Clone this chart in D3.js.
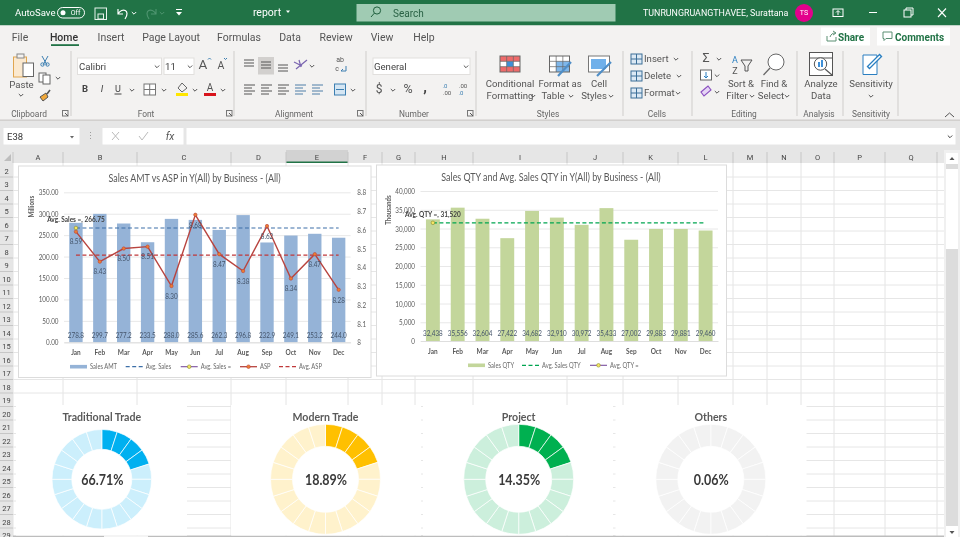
<!DOCTYPE html>
<html>
<head>
<meta charset="utf-8">
<script src="https://cdn.jsdelivr.net/npm/d3@7"></script>
<style>
  html, body { margin: 0; padding: 0; background: #fff; overflow: hidden; }
  svg { display: block; filter: blur(0.35px); }
  text { font-family: Roboto, "Open Sans", sans-serif; }
  .chart text { font-family: Lato, "Open Sans", sans-serif; }
</style>
</head>
<body>
<svg id="sheet" width="960" height="537"></svg>
<script>
// Chart data
var months = ["Jan", "Feb", "Mar", "Apr", "May", "Jun", "Jul", "Aug", "Sep", "Oct", "Nov", "Dec"];
var salesAmt = [278.8, 299.7, 277.2, 233.5, 288.0, 285.6, 262.3, 296.8, 232.9, 249.1, 253.2, 244.0];
var asp = [8.59, 8.43, 8.50, 8.51, 8.30, 8.68, 8.47, 8.38, 8.62, 8.34, 8.47, 8.28];
var avgSales = 266.75;
var avgAsp = 8.465;
var amtTicks = [0, 50, 100, 150, 200, 250, 300, 350];
var aspTicks = [8, 8.1, 8.2, 8.3, 8.4, 8.5, 8.6, 8.7, 8.8];

var salesQty = [32438, 35556, 32604, 27422, 34682, 32910, 30972, 35433, 27002, 29883, 29881, 29460];
var avgQty = 31520;
var qtyTicks = [0, 5000, 10000, 15000, 20000, 25000, 30000, 35000, 40000];

var businessNames = ["Traditional Trade", "Modern Trade", "Project", "Others"];
var businessShare = ["66.71%", "18.89%", "14.35%", "0.06%"];
var businessLit = [4, 4, 4, 0];
var ringSegments = [1, 1, 1, 1, 1, 1, 1, 1, 1, 1, 1, 1, 1, 1, 1, 1, 1, 1, 1, 1];

// Sheet grid labels
var columnNames = ["A", "B", "C", "D", "E", "F", "G", "H", "I", "J", "K", "L", "M", "N", "O", "P", "Q"];
var columnEdges = [13, 63, 137, 231, 286, 348, 382, 415, 473, 567, 623, 678, 733, 767, 801, 834, 885, 937];
var rowNumbers = [2, 3, 4, 5, 6, 7, 8, 9, 10, 11, 12, 13, 14, 15, 16, 17, 18, 19, 20, 21, 22, 23, 24, 25, 26, 27, 28, 29];

var svg = d3.select("#sheet");
var GREEN = "#217346";

function rect(g, x, y, w, h, fill, stroke) {
  return g.append("rect").attr("x", x).attr("y", y).attr("width", w).attr("height", h)
    .attr("fill", fill || "none").attr("stroke", stroke || "none");
}
function label(g, x, y, str, size, fill, anchor, weight) {
  return g.append("text").attr("x", x).attr("y", y).attr("dy", "0.35em")
    .attr("font-size", size).attr("fill", fill || "#444")
    .attr("text-anchor", anchor || "middle").attr("font-weight", weight || 400).text(str);
}
function line(g, x1, y1, x2, y2, stroke, width) {
  return g.append("line").attr("x1", x1).attr("y1", y1).attr("x2", x2).attr("y2", y2)
    .attr("stroke", stroke).attr("stroke-width", width || 1);
}
function path(g, d, stroke, width, fill) {
  return g.append("path").attr("d", d).attr("stroke", stroke || "none")
    .attr("stroke-width", width || 1).attr("fill", fill || "none");
}
function chevron(g, x, y, stroke) {
  path(g, `M${x - 2.2},${y - 1} L${x},${y + 1.2} L${x + 2.2},${y - 1}`, stroke || "#555", 1);
}
// stack of short horizontal bars for the alignment buttons
function bars(g, x, y, widths, stroke) {
  widths.forEach((w, i) => line(g, x, y + i * 3, x + w, y + i * 3, stroke || "#555", 1));
}
// Lato runs wider than Calibri, so squeeze the text to the width Calibri would take
function condense(sel, k) {
  sel.each(function () {
    d3.select(this).attr("textLength", this.getComputedTextLength() * k).attr("lengthAdjust", "spacingAndGlyphs");
  });
}
// small cell grid used by the Styles icons
function cellGrid(g, x, y, w, h, cols, rows) {
  rect(g, x, y, w, h, "none", "#666");
  for (var c = 1; c < cols; c++) line(g, x + c * w / cols, y, x + c * w / cols, y + h, "#666", 0.7);
  for (var r = 1; r < rows; r++) line(g, x, y + r * h / rows, x + w, y + r * h / rows, "#666", 0.7);
}

// ---- title bar ----
function drawTitleBar() {
  var g = svg.append("g");
  rect(g, 0, 0, 960, 25.5, GREEN);
  label(g, 15, 12.5, "AutoSave", 9.6, "#fff", "start");
  g.append("rect").attr("x", 57.5).attr("y", 7.5).attr("width", 27).attr("height", 10.5)
    .attr("rx", 5.2).attr("fill", "none").attr("stroke", "#fff");
  g.append("circle").attr("cx", 63).attr("cy", 12.7).attr("r", 2.5).attr("fill", "#fff");
  label(g, 75.5, 12.5, "Off", 7, "#fff");
  rect(g, 95, 8, 11.5, 11.5, "none", "#e8f3ec");
  rect(g, 98, 14, 5.5, 5, "none", "#e8f3ec");
  path(g, "M118,9 L118,14 L123,14 M118,14 C122,7 131,10 125,19", "#fff", 1.2);
  chevron(g, 134, 13, "#fff");
  path(g, "M156,9 L156,14 L151,14 M156,14 C152,7 143,10 149,19", "#4f9570", 1.1);
  chevron(g, 162, 13, "#4f9570");
  line(g, 176, 9.5, 182, 9.5, "#fff");
  path(g, "M176,12 L182,12 L179,15.5 Z", "none", 1, "#fff");
  label(g, 267, 12.5, "report", 10.5, "#fff");
  path(g, "M286,10.5 L290,10.5 L288,13 Z", "none", 1, "#fff");
  rect(g, 356.5, 4, 259, 17.5, "#a0cbb3");
  g.append("circle").attr("cx", 377).attr("cy", 10.5).attr("r", 3.6).attr("fill", "none").attr("stroke", "#1f5f3d");
  line(g, 374.3, 13.2, 371, 17, "#1f5f3d");
  label(g, 393, 13, "Search", 10, "#2a6245", "start");
  label(g, 643, 12.8, "TUNRUNGRUANGTHAVEE, Surattana", 8.9, "#fff", "start");
  g.append("circle").attr("cx", 804).attr("cy", 13).attr("r", 9).attr("fill", "#e3008c");
  label(g, 804, 13, "TS", 7, "#fff");
  rect(g, 833, 9, 10, 7.5, "none", "#fff");
  path(g, "M838,15 L838,11 M836,12.5 L838,10.5 L840,12.5", "#fff");
  line(g, 869, 12.5, 877, 12.5, "#fff");
  rect(g, 904, 10, 7, 7, "none", "#fff");
  path(g, "M906,10 L906,8 L913,8 L913,15 L911,15", "#fff");
  path(g, "M938,8.5 L946,17 M946,8.5 L938,17", "#fff", 1.1);
}

// ---- ribbon ----
function drawRibbon() {
  var g = svg.append("g");
  rect(g, 0, 25.5, 960, 94, "#f3f2f1");
  rect(g, 0, 119.5, 960, 31, "#e6e6e6");
  rect(g, 0, 119.5, 960, 1.5, "#d2d0ce");

  var tabs = [["File", 20], ["Home", 64], ["Insert", 111], ["Page Layout", 171], ["Formulas", 239],
    ["Data", 290], ["Review", 336], ["View", 382], ["Help", 424]];
  tabs.forEach(t => label(g, t[1], 37, t[0], 10.5, t[0] == "Home" ? "#333" : "#555", "middle", t[0] == "Home" ? 500 : 400));
  rect(g, 51, 44.2, 28, 1.8, GREEN);

  rect(g, 821, 27.5, 49, 18, "#fff");
  path(g, "M827,36 L827,41 L836,41 L836,37 M830,37 C831,34 833,33 835,33 M833,31 L836,33 L833,35", "#5a8f73");
  label(g, 838, 37, "Share", 10, GREEN, "start", 700);
  rect(g, 877, 27.5, 73, 18, "#fff");
  path(g, "M883,32 L892,32 L892,38.5 L886,38.5 L884,40.5 L884,38.5 L883,38.5 Z", "#5a8f73");
  label(g, 895, 37, "Comments", 10, GREEN, "start", 700);

  [71, 234, 366, 476, 623, 692, 797, 843, 898].forEach(x => line(g, x, 51, x, 116, "#cfcdcb"));
  [["Clipboard", 29], ["Font", 146], ["Alignment", 294], ["Number", 414], ["Styles", 548],
    ["Cells", 657], ["Editing", 744], ["Analysis", 819], ["Sensitivity", 871]]
    .forEach(t => label(g, t[1], 114, t[0], 8.4, "#666"));
  [65, 229, 360, 470].forEach(x => {
    rect(g, x - 2.5, 110.5, 5.5, 5.5, "none", "#777");
    path(g, `M${x},${113} L${x + 3},${116}`, "#555");
  });
  path(g, "M945,117 L949.5,113 L954,117", "#555", 1);

  // clipboard
  rect(g, 13.5, 57, 13, 20, "#fbe9cf", "#e0a650");
  rect(g, 17, 54, 7, 4, "#f3f2f1", "#888");
  rect(g, 23, 63, 10.5, 13.5, "#fff", "#666");
  label(g, 21.5, 84.5, "Paste", 9.6, "#555");
  chevron(g, 21, 95);
  path(g, "M42,56 L47,65 M48,56 L43,65", "#3c7fb1", 1);
  g.append("circle").attr("cx", 42.5).attr("cy", 64.5).attr("r", 1.7).attr("fill", "none").attr("stroke", "#3c7fb1");
  g.append("circle").attr("cx", 47.5).attr("cy", 64.5).attr("r", 1.7).attr("fill", "none").attr("stroke", "#3c7fb1");
  rect(g, 39, 73, 7, 9, "#fff", "#666");
  rect(g, 43, 75, 7, 9, "#fff", "#666");
  chevron(g, 58, 78);
  path(g, "M40,97 L46,93 L48,97 L43,101 Z", "#555", 1, "#f0a83a");
  path(g, "M47,94 L50,90", "#555", 1.6);

  // font
  rect(g, 77.5, 58, 84, 16.5, "#fff", "#e1dfdd");
  label(g, 79, 66.5, "Calibri", 9.6, "#444", "start");
  chevron(g, 157, 66.5);
  rect(g, 164, 58, 30, 16.5, "#fff", "#e1dfdd");
  label(g, 165, 66.5, "11", 9.6, "#444", "start");
  chevron(g, 190, 66.5);
  label(g, 203, 64, "A", 13.5, "#555");
  label(g, 221, 65, "A", 10.5, "#555");
  path(g, "M208,59.5 L209.5,58 L211,59.5", "#3c7fb1");
  path(g, "M224,58 L225.5,59.5 L227,58", "#3c7fb1");
  label(g, 85, 89, "B", 9.5, "#444", "middle", 700);
  label(g, 102, 89, "I", 9.5, "#444").attr("font-style", "italic");
  label(g, 118, 88.5, "U", 9, "#444");
  line(g, 114.5, 94, 121.5, 94, "#444");
  chevron(g, 132, 90);
  rect(g, 144, 84, 11.5, 11, "#fff", "#777");
  line(g, 149.7, 84, 149.7, 95, "#777");
  line(g, 144, 89.5, 155.5, 89.5, "#777");
  chevron(g, 164, 90);
  path(g, "M178,88 L182,83 L187,88 L182,92 Z", "#666", 1);
  rect(g, 176, 93, 12, 3, "#ffe600");
  chevron(g, 195, 90);
  label(g, 210, 87, "A", 10, "#555");
  rect(g, 204, 93, 12, 3, "#d8141c");
  chevron(g, 223, 90);

  // alignment
  rect(g, 258, 57, 16, 17.5, "#d2d0ce");
  bars(g, 244, 60, [10, 10, 10]);
  bars(g, 261, 62, [10, 10, 10]);
  bars(g, 278, 65, [10, 10, 10]);
  path(g, "M296,69 L307,60 M299,60 L301,67 M294,62 L302,66", "#7a65b0", 1.2);
  chevron(g, 312, 66);
  label(g, 340, 60, "ab", 7, "#555");
  label(g, 337, 68.5, "c", 7, "#555");
  path(g, "M341,71 L346,71 L346,66 M341,71 L343,69", "#3c7fb1");
  bars(g, 244, 85, [11, 8, 11, 8]);
  bars(g, 261, 85, [11, 8, 11, 8]);
  bars(g, 278, 85, [11, 8, 11, 8]);
  bars(g, 295, 85, [11, 8, 11, 8], "#4f7fa8");
  bars(g, 312, 85, [11, 8, 11, 8], "#4f7fa8");
  rect(g, 334.5, 84, 11, 11, "#d5e6f3", "#3c7fb1");
  line(g, 336, 89.5, 344, 89.5, "#3c7fb1");
  chevron(g, 353, 90);

  // number
  rect(g, 373, 58, 97, 16.5, "#fff", "#e1dfdd");
  label(g, 374, 66.5, "General", 9.6, "#444", "start");
  chevron(g, 466, 66.5);
  label(g, 379, 89, "$", 12, "#555");
  chevron(g, 393, 90);
  label(g, 408, 89, "%", 12.5, "#555");
  label(g, 425, 87, ",", 15, "#444", "middle", 700);
  label(g, 445, 85.5, ".0", 6, "#3c7fb1");
  label(g, 447, 92.5, ".00", 6, "#555");
  label(g, 463, 85.5, ".00", 6, "#555");
  label(g, 461, 92.5, ".0", 6, "#3c7fb1");

  // styles
  rect(g, 500, 56, 20, 16, "#fff");
  rect(g, 500, 56, 20, 5.3, "#ee6a6a");
  rect(g, 500, 66.7, 20, 5.3, "#ee6a6a");
  rect(g, 506.7, 61.3, 6.6, 5.4, "#3f8fd6");
  cellGrid(g, 500, 56, 20, 16, 3, 3);
  rect(g, 549.5, 56, 20, 16, "#fff");
  rect(g, 556, 61.3, 13.5, 10.7, "#7fb7ea");
  cellGrid(g, 549.5, 56, 20, 16, 3, 3);
  path(g, "M558,76 L571,62", "#4f8ec7", 2.2);
  rect(g, 588.5, 56, 21, 16, "#fff", "#777");
  rect(g, 591, 59, 15, 10, "#70b0ea");
  path(g, "M597,76 L611,62", "#4f8ec7", 2.2);
  label(g, 510, 84, "Conditional", 9.6, "#555");
  label(g, 510, 96, "Formatting", 9.6, "#555");
  chevron(g, 533, 96);
  label(g, 560, 84, "Format as", 9.6, "#555");
  label(g, 553, 96, "Table", 9.6, "#555");
  chevron(g, 571, 96);
  label(g, 599, 84, "Cell", 9.6, "#555");
  label(g, 594, 96, "Styles", 9.6, "#555");
  chevron(g, 611, 96);

  // cells
  [["Insert", 59, 676], ["Delete", 76, 679], ["Format", 93, 678]].forEach(t => {
    rect(g, 631, t[1] - 5, 11, 10, "#dce9f4", "#3c6f98");
    line(g, 631, t[1], 642, t[1], "#3c6f98");
    line(g, 636.5, t[1] - 5, 636.5, t[1] + 5, "#3c6f98");
    label(g, 644, t[1], t[0], 9.6, "#555", "start");
    chevron(g, t[2], t[1]);
  });

  // editing
  label(g, 706, 58, "\u03A3", 12.5, "#555");
  chevron(g, 719, 59);
  rect(g, 700.5, 70, 11, 10, "#fff", "#666");
  path(g, "M706,72 L706,78 M704,76 L706,78 L708,76", "#2a7fc1", 1);
  chevron(g, 717, 75.5);
  path(g, "M701,92 L708,86 L711,90 L704,96 Z", "#8a4fc0", 1.1, "#e6d5f5");
  chevron(g, 717, 92);
  label(g, 735, 59.5, "A", 9, "#2a7fc1");
  label(g, 735, 70.5, "Z", 9, "#555");
  path(g, "M741,60 L752,60 L748,66 L748,71 L745,71 L745,66 Z", "#555", 1);
  g.append("circle").attr("cx", 776).attr("cy", 62).attr("r", 8).attr("fill", "#fff").attr("stroke", "#666");
  line(g, 770, 68, 763.5, 75, "#666", 1.2);
  label(g, 741, 84, "Sort &", 9.6, "#555");
  label(g, 737, 96, "Filter", 9.6, "#555");
  chevron(g, 752, 96);
  label(g, 774, 84, "Find &", 9.6, "#555");
  label(g, 771, 96, "Select", 9.6, "#555");
  chevron(g, 787, 96);

  // analysis + sensitivity
  rect(g, 809.5, 52.5, 23, 23, "#fff", "#555");
  line(g, 809.5, 58, 832.5, 58, "#555");
  g.append("circle").attr("cx", 820.5).attr("cy", 64).attr("r", 6.2).attr("fill", "#fff").attr("stroke", "#555");
  rect(g, 818, 62, 2, 5, "#3f8fd6");
  rect(g, 821, 60, 2, 7, "#3f8fd6");
  line(g, 825, 69, 832, 75, "#555", 1.2);
  label(g, 821, 84, "Analyze", 9.6, "#555");
  label(g, 821, 96, "Data", 9.6, "#555");
  path(g, "M863,55 L877,55 L877,74.5 L863,74.5 Z", "#2a7fc1", 1, "#fff");
  path(g, "M868,68 L881,55", "#2a7fc1", 4);
  path(g, "M869,67 L880,56", "#fff", 1.6);
  label(g, 871, 84, "Sensitivity", 9.6, "#555");
  chevron(g, 871, 96);

  // formula bar
  rect(g, 3.5, 128, 76, 16.5, "#fff");
  label(g, 7, 136.5, "E38", 9.5, "#333", "start");
  path(g, "M70,136 L74,136 L72,138.5 Z", "none", 1, "#666");
  g.append("text").attr("x", 90).attr("y", 139).attr("font-size", 9).attr("fill", "#999").attr("text-anchor", "middle").text("\u22EE");
  rect(g, 102.5, 128, 81, 16.5, "#fff");
  path(g, "M112,132 L119,140 M119,132 L112,140", "#bbb", 1);
  path(g, "M139,136 L142,140 L148,132", "#bbb", 1);
  label(g, 170, 136, "fx", 10.5, "#555").attr("font-style", "italic").attr("font-family", "Liberation Serif");
  rect(g, 186.5, 128, 769, 16.5, "#fff");
  chevron(g, 950, 136.5, "#444");
}

// ---- worksheet grid ----
function drawGrid() {
  var g = svg.append("g");
  rect(g, 0, 150, 960, 387, "#e6e6e6");
  rect(g, 13, 163, 931, 374, "#fff");

  rect(g, columnEdges[4], 150, columnEdges[5] - columnEdges[4], 13, "#d2d2d2");
  rect(g, columnEdges[4], 161.5, columnEdges[5] - columnEdges[4], 1.5, GREEN);
  path(g, "M4,161 L11,161 L11,154 Z", "none", 1, "#bdbdbd");

  columnEdges.forEach(x => {
    line(g, x, 152, x, 163, "#c6c6c6");
    line(g, x, 163, x, 537, "#e4e4e4");
  });
  columnNames.forEach((name, i) => {
    label(g, (columnEdges[i] + columnEdges[i + 1]) / 2, 157, name, 7.5, "#444");
  });

  var rowY = d3.scaleLinear().domain([2, 29]).range([171, 535.5]);
  rowNumbers.forEach(n => {
    label(g, 6.5, rowY(n), n, 7.5, "#444");
    line(g, 0, rowY(n) + 6, 13, rowY(n) + 6, "#c6c6c6");
    line(g, 13, rowY(n) + 6, 944, rowY(n) + 6, "#e6e6e6");
  });

  // vertical scroll bar
  rect(g, 944, 150, 16, 387, "#f0f0f0");
  rect(g, 946, 163, 12, 374, "#dcdcdc");
  rect(g, 946, 153, 12, 11, "#fff");
  path(g, "M949.5,160 L954.5,160 L952,157 Z", "none", 1, "#555");
  rect(g, 946, 169, 12, 80, "#fff");
  rect(g, 946, 526, 12, 11, "#fff");
  path(g, "M949.5,531 L954.5,531 L952,534 Z", "none", 1, "#555");
  rect(g, 13, 535.5, 931, 1.5, "#bdbdbd");
  rect(g, 104, 535.5, 44, 1.5, "#f4f4f4");
}

function chartFrame(x, y, w, h, title, titleX, titleY) {
  var g = svg.append("g").attr("class", "chart xl");
  rect(g, x, y, w, h, "#fff", "#dcdcdc");
  label(g, titleX, titleY, title, 11, "#595959");
  return g;
}

// axis with long ticks used as gridlines
function styleValueAxis(sel) {
  sel.select(".domain").remove();
  sel.selectAll("line").attr("stroke", "#e8e8e8");
  sel.selectAll("text").attr("fill", "#595959").attr("font-size", 7.8);
}

function drawMonthAxis(g, x, y0) {
  var axis = g.append("g").attr("transform", `translate(0,${y0})`)
    .call(d3.axisBottom(x).tickSize(0).tickPadding(7));
  axis.select(".domain").attr("stroke", "#dedede");
  axis.selectAll("text").attr("fill", "#595959").attr("font-size", 8).attr("font-weight", 700);
}

function legendSwatch(g, type, x, y) {
  if (type == "bar") rect(g, x, y - 1.8, 17, 3.6, g.attr("data-bar"));
  if (type == "avgBlue") line(g, x, y, x + 17, y, "#3d6fa8", 1.2).attr("stroke-dasharray", "4,2.5");
  if (type == "avgGreen") line(g, x, y, x + 17, y, "#00a550", 1.2).attr("stroke-dasharray", "4,2.5");
  if (type == "avgRed") line(g, x, y, x + 17, y, "#c0393b", 1.2).attr("stroke-dasharray", "4,2.5");
  if (type == "marker") {
    line(g, x, y, x + 17, y, "#7a4f9e", 1.1);
    g.append("circle").attr("cx", x + 8.5).attr("cy", y).attr("r", 1.8).attr("fill", "#f5e663").attr("stroke", "#8a8a2c").attr("stroke-width", 0.6);
  }
  if (type == "asp") {
    line(g, x, y, x + 17, y, "#b8443f", 1.3);
    g.append("circle").attr("cx", x + 8.5).attr("cy", y).attr("r", 1.8).attr("fill", "#ed7d31").attr("stroke", "#b8443f").attr("stroke-width", 0.6);
  }
}

function drawLegend(g, y, items) {
  items.forEach(it => {
    legendSwatch(g, it.type, it.x, y);
    label(g, it.x + 20, y, it.name, 7.2, "#6a6a6a", "start");
  });
}

// ---- Sales AMT vs ASP ----
function drawAmtChart() {
  var g = chartFrame(18.5, 166, 352.5, 211.5, "Sales AMT vs ASP in Y(All) by Business - (All)", 194.5, 178);
  g.attr("data-bar", "#95b3d7");

  var x = d3.scaleBand().domain(months).range([64, 350.6]).paddingInner(0.44).paddingOuter(0.22);
  var y = d3.scaleLinear().domain([0, 350]).range([342.3, 192.3]);
  var yAsp = d3.scaleLinear().domain([8, 8.8]).range([342.3, 192.3]);
  var cx = m => x(m) + x.bandwidth() / 2;

  g.append("g").attr("transform", "translate(64,0)")
    .call(d3.axisLeft(y).tickValues(amtTicks).tickFormat(d3.format(".2f")).tickSize(-286.6).tickPadding(5.5))
    .call(styleValueAxis);
  g.append("g").attr("transform", "translate(350.6,0)")
    .call(d3.axisRight(yAsp).tickValues(aspTicks).tickFormat(d => d == 8 ? "8" : d.toFixed(1)).tickSize(0).tickPadding(6.7))
    .call(styleValueAxis);

  g.selectAll(".bar").data(salesAmt).join("rect").attr("class", "bar")
    .attr("x", (d, i) => x(months[i])).attr("y", d => y(d))
    .attr("width", x.bandwidth()).attr("height", d => y(0) - y(d)).attr("fill", "#95b3d7");
  drawMonthAxis(g, x, y(0));

  g.append("line").attr("x1", cx(months[0])).attr("x2", cx(months[11])).attr("y1", y(avgSales)).attr("y2", y(avgSales))
    .attr("stroke", "#3d6fa8").attr("stroke-width", 1.2).attr("stroke-dasharray", "4,2.5");
  g.append("line").attr("x1", cx(months[0])).attr("x2", cx(months[11])).attr("y1", yAsp(avgAsp)).attr("y2", yAsp(avgAsp))
    .attr("stroke", "#c0393b").attr("stroke-width", 1.3).attr("stroke-dasharray", "4,2.5");

  var aspLine = d3.line().x((d, i) => cx(months[i])).y(d => yAsp(d));
  g.append("path").attr("d", aspLine(asp)).attr("fill", "none").attr("stroke", "#b8443f").attr("stroke-width", 1.4);
  g.selectAll(".pt").data(asp).join("circle").attr("class", "pt")
    .attr("cx", (d, i) => cx(months[i])).attr("cy", d => yAsp(d)).attr("r", 1.7)
    .attr("fill", "#ed7d31").attr("stroke", "#b8443f").attr("stroke-width", 0.6);

  asp.forEach((d, i) => label(g, cx(months[i]), yAsp(d) + 10, d.toFixed(2), 7.8, "#44546a"));
  salesAmt.forEach((d, i) => label(g, cx(months[i]), 335.7, d.toFixed(1), 7.8, "#44546a"));

  g.append("circle").attr("cx", cx(months[0])).attr("cy", y(avgSales)).attr("r", 1.8)
    .attr("fill", "#f5e663").attr("stroke", "#8a8a2c").attr("stroke-width", 0.6);
  label(g, cx(months[0]), 219.3, "Avg. Sales =, " + avgSales.toFixed(2), 8, "#404040", "middle", 700);

  label(g, 31.7, 206.7, "Millions", 7.6, "#595959", "middle", 700)
    .attr("transform", "rotate(-90,31.7,206.7)");

  drawLegend(g, 366.7, [
    { type: "bar", name: "Sales AMT", x: 70 },
    { type: "avgBlue", name: "Avg. Sales", x: 125.7 },
    { type: "marker", name: "Avg. Sales =", x: 180.7 },
    { type: "asp", name: "ASP", x: 240 },
    { type: "avgRed", name: "Avg. ASP", x: 279 }
  ]);
}

// ---- Sales QTY ----
function drawQtyChart() {
  var g = chartFrame(376.5, 165, 350, 211, "Sales QTY and Avg. Sales QTY in Y(All) by Business - (All)", 551, 177);
  g.attr("data-bar", "#c3d69b");

  var x = d3.scaleBand().domain(months).range([420.5, 718]).paddingInner(0.44).paddingOuter(0.22);
  var y = d3.scaleLinear().domain([0, 40000]).range([341, 191]);
  var cx = m => x(m) + x.bandwidth() / 2;

  g.append("g").attr("transform", "translate(420.5,0)")
    .call(d3.axisLeft(y).tickValues(qtyTicks).tickFormat(d3.format(",")).tickSize(-297.5).tickPadding(5.5))
    .call(styleValueAxis);

  g.selectAll(".bar").data(salesQty).join("rect").attr("class", "bar")
    .attr("x", (d, i) => x(months[i])).attr("y", d => y(d))
    .attr("width", x.bandwidth()).attr("height", d => y(0) - y(d)).attr("fill", "#c3d69b");
  drawMonthAxis(g, x, y(0));

  g.append("line").attr("x1", cx(months[0])).attr("x2", cx(months[11])).attr("y1", y(avgQty)).attr("y2", y(avgQty))
    .attr("stroke", "#00a550").attr("stroke-width", 1.3).attr("stroke-dasharray", "4,2.5");

  salesQty.forEach((d, i) => label(g, cx(months[i]), 333.7, d3.format(",")(d), 7.8, "#44546a"));

  g.append("circle").attr("cx", cx(months[0])).attr("cy", y(avgQty)).attr("r", 1.8)
    .attr("fill", "#f5e663").attr("stroke", "#8a8a2c").attr("stroke-width", 0.6);
  label(g, cx(months[0]), 214.3, "Avg. QTY =, " + d3.format(",")(avgQty), 8, "#404040", "middle", 700);

  label(g, 388.5, 210, "Thousands", 7.6, "#595959", "middle", 700)
    .attr("transform", "rotate(-90,388.5,210)");

  drawLegend(g, 365.3, [
    { type: "bar", name: "Sales QTY", x: 468 },
    { type: "avgGreen", name: "Avg. Sales QTY", x: 522 },
    { type: "marker", name: "Avg. QTY =", x: 590 }
  ]);
}

// ---- business share rings ----
function drawRings() {
  var panels = [
    { x: 16, w: 171, cx: 101.8, r0: 30, r1: 49.8, on: "#00b0f0", off: "#cceffc" },
    { x: 231, w: 190, cx: 325.5, r0: 33, r1: 55, on: "#ffc000", off: "#fff2cc" },
    { x: 423, w: 190, cx: 518.7, r0: 33, r1: 55, on: "#00b050", off: "#ccefdc" },
    { x: 615.5, w: 191, cx: 710.8, r0: 33, r1: 55, on: "#f2f2f2", off: "#f2f2f2" }
  ];
  var cy = 479.3;
  var pie = d3.pie().sort(null);

  panels.forEach((p, i) => {
    var g = svg.append("g").attr("class", "chart");
    rect(g, p.x, 405, p.w, 130.5, "#fff");
    label(g, p.cx, 417, businessNames[i], 10.6, "#595959", "middle", 700);

    var arc = d3.arc().innerRadius(p.r0).outerRadius(p.r1);
    g.append("g").attr("transform", `translate(${p.cx},${cy})`)
      .selectAll("path").data(pie(ringSegments)).join("path")
      .attr("d", arc)
      .attr("fill", (d, k) => k < businessLit[i] ? p.on : p.off)
      .attr("stroke", "#fff").attr("stroke-width", 0.7);

    condense(label(g, p.cx + 0.5, cy + 0.5, businessShare[i], 14.5, "#3a3a3a", "middle", 700), 0.86);
  });
}

drawTitleBar();
drawRibbon();
drawGrid();
drawAmtChart();
drawQtyChart();
drawRings();
condense(svg.selectAll(".xl text"), 0.81);
</script>
</body>
</html>
